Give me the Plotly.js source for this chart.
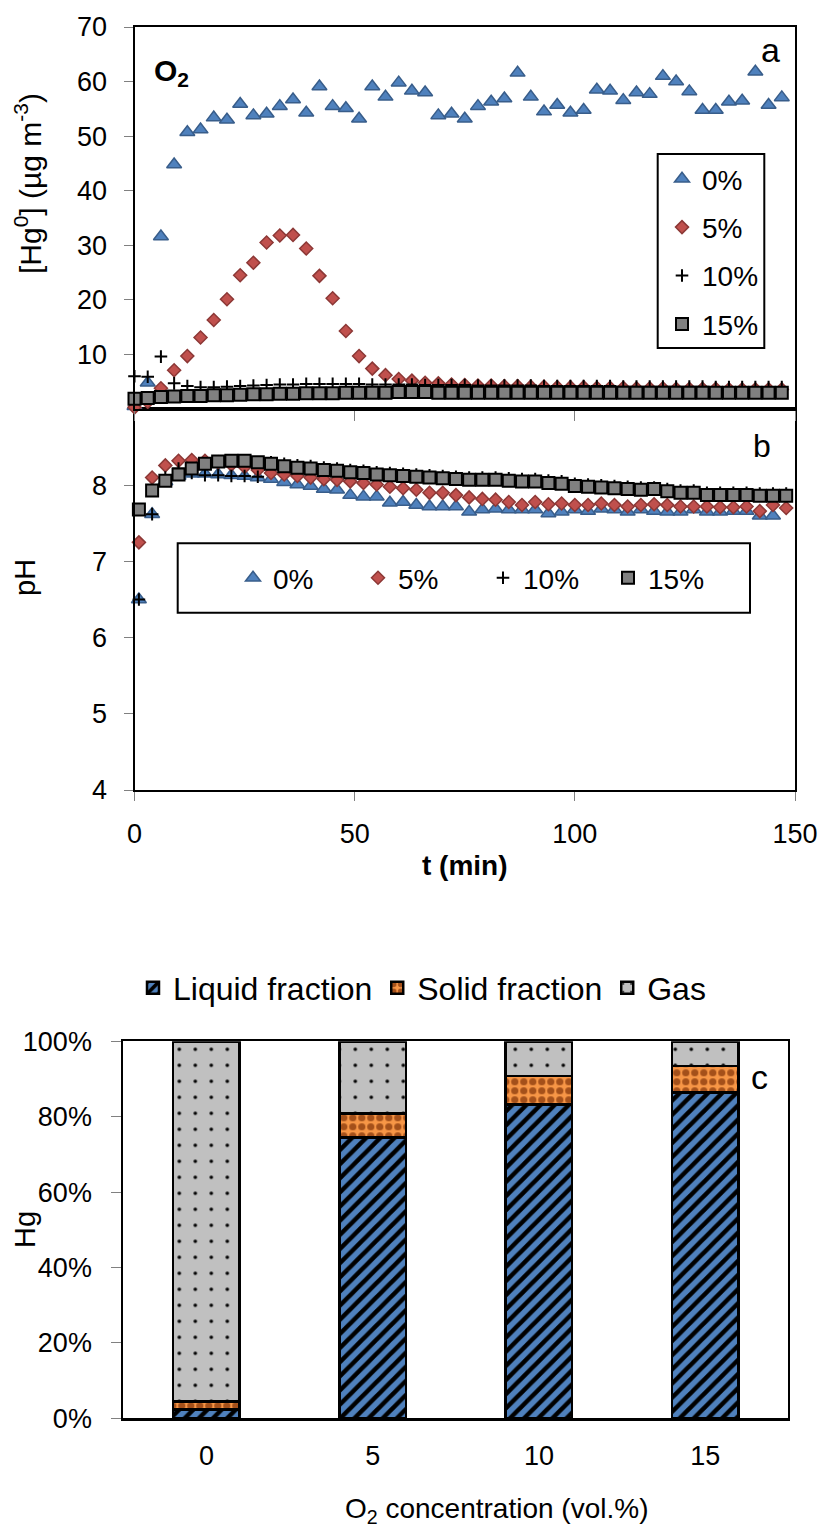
<!DOCTYPE html>
<html>
<head>
<meta charset="utf-8">
<script src="https://cdn.plot.ly/plotly-3.0.1.min.js"></script>
<style>html,body{margin:0;padding:0;background:#fff;}#chart{width:825px;height:1533px;}</style>
</head>
<body>
<div id="chart"></div>
<script>
// ---------- DATA ----------
// Panel a: time (min) and [Hg0] (µg m-3)
const tHg = [0,3,6,9,12,15,18,21,24,27,30,33,36,39,42,45,48,51,54,57,60,63,66,69,72,75,78,81,84,87,90,93,96,99,102,105,108,111,114,117,120,123,126,129,132,135,138,141,144,147];
const hg0 = [0.5,4.8,31.6,44.8,50.7,51.2,53.4,53.0,55.9,53.8,54.1,55.5,56.7,54.3,59.1,55.5,55.1,53.2,59.1,57.2,59.8,58.3,58.0,53.8,54.1,53.2,55.5,56.3,56.9,61.6,57.2,54.5,55.7,54.3,54.8,58.5,58.3,56.6,58.0,57.7,61.0,60.0,58.2,54.8,54.8,56.3,56.5,61.8,55.7,57.1];
const hg5 = [0.3,1.3,3.8,7.1,9.7,13.1,16.3,20.1,24.5,26.8,30.5,31.8,31.9,29.4,24.4,20.3,14.3,9.7,7.4,6.2,5.5,5.2,4.8,4.7,4.5,4.4,4.3,4.3,4.2,4.2,4.1,4.1,4.0,4.0,4.0,3.9,3.9,3.9,3.8,3.8,3.8,3.7,3.7,3.7,3.7,3.6,3.6,3.6,3.6,3.6];
const hg10 = [6.0,5.9,9.6,4.7,4.2,4.0,4.0,4.1,4.2,4.3,4.4,4.5,4.5,4.6,4.6,4.6,4.6,4.6,4.5,4.5,4.5,4.5,4.4,4.4,4.4,4.4,4.3,4.3,4.3,4.3,4.3,4.2,4.2,4.2,4.2,4.2,4.2,4.1,4.1,4.1,4.1,4.1,4.1,4.1,4.0,4.0,4.0,4.0,4.0,4.0];
const hg15 = [1.9,2.0,2.2,2.3,2.4,2.4,2.5,2.5,2.6,2.7,2.7,2.8,2.8,2.9,2.9,2.9,3.0,3.0,3.0,3.0,3.1,3.1,3.1,3.0,3.0,3.0,3.0,3.0,3.0,3.0,3.0,3.0,3.0,3.0,3.0,3.0,3.0,3.0,3.0,3.0,3.0,3.0,3.0,3.0,3.0,3.0,3.0,3.0,3.0,3.0];

// Panel b: time (min) and pH
const tPH = [1,4,7,10,13,16,19,22,25,28,31,34,37,40,43,46,49,52,55,58,61,64,67,70,73,76,79,82,85,88,91,94,97,100,103,106,109,112,115,118,121,124,127,130,133,136,139,142,145,148];
const ph0 = [6.50,7.62,8.05,8.12,8.15,8.15,8.14,8.13,8.12,8.10,8.08,8.04,8.01,7.99,7.95,7.94,7.87,7.85,7.85,7.77,7.78,7.74,7.72,7.72,7.72,7.65,7.68,7.69,7.68,7.68,7.68,7.63,7.65,7.68,7.66,7.69,7.68,7.65,7.68,7.66,7.65,7.65,7.68,7.65,7.65,7.66,7.66,7.60,7.60,null];
const ph5 = [7.25,8.10,8.26,8.32,8.33,8.32,8.30,8.27,8.24,8.20,8.16,8.14,8.12,8.10,8.08,8.07,8.05,8.03,8.01,7.98,7.96,7.94,7.90,7.90,7.87,7.84,7.82,7.81,7.78,7.74,7.78,7.75,7.76,7.74,7.74,7.76,7.74,7.72,7.74,7.75,7.74,7.72,7.72,7.72,7.71,7.71,7.72,7.66,7.74,7.70];
const ph10 = [6.50,7.62,8.10,8.22,8.16,8.13,8.13,8.12,8.12,8.11,8.30,8.28,8.26,8.25,8.23,8.22,8.20,8.19,8.17,8.16,8.15,8.14,8.13,8.12,8.11,8.10,8.10,8.10,8.09,8.08,8.08,8.06,8.05,8.02,8.01,8.00,7.99,7.98,7.97,7.97,7.95,7.93,7.93,7.90,7.90,7.90,7.90,7.89,7.89,7.89];
const ph15 = [7.68,7.93,8.06,8.14,8.22,8.28,8.31,8.32,8.32,8.30,8.28,8.25,8.23,8.22,8.20,8.19,8.17,8.16,8.14,8.13,8.12,8.11,8.10,8.09,8.08,8.07,8.07,8.07,8.06,8.05,8.05,8.03,8.02,7.99,7.98,7.97,7.96,7.95,7.94,7.95,7.92,7.90,7.90,7.87,7.87,7.87,7.87,7.86,7.86,7.86];
const seriesNames = ['0%','5%','10%','15%'];

// Panel c: Hg distribution (%)
const o2Cats = ['0','5','10','15'];
const liquidFrac = [2.4,74.5,83.3,86.4];
const solidFrac = [2.0,6.3,7.5,7.0];
const gasFrac = [95.6,19.2,9.2,6.6];
const barNames = ['Liquid fraction','Solid fraction','Gas'];

const hgTicks = [10,20,30,40,50,60,70];
const phTicks = [4,5,6,7,8];
const tTicks = [0,50,100,150];
const pctTicks = [0,20,40,60,80,100];
const pctTickText = ['0%','20%','40%','60%','80%','100%'];

// ---------- LAYOUT HELPERS ----------
const W = 825, H = 1533;
const px = x => x / W;
const py = y => 1 - y / H;
const FONT = 'Liberation Sans, Arial, sans-serif';

const styles = [
  {symbol:'triangle-up', size:13, color:'#4F81BD', line:{color:'#385D8A', width:1.5}},
  {symbol:'diamond', size:10, color:'#C0504D', line:{color:'#8C3836', width:1.5}},
  {symbol:'cross-thin', size:9, color:'#000', line:{color:'#000', width:2}},
  {symbol:'square', size:12, color:'#808080', line:{color:'#000', width:2}}
];

const hgSeries = [hg0, hg5, hg10, hg15];
const phSeries = [ph0, ph5, ph10, ph15];
const traces = [];
hgSeries.forEach((ys, i) => {
  traces.push({type:'scatter', mode:'markers', x:tHg, y:ys, xaxis:'x2', yaxis:'y2',
    name:seriesNames[i], marker:styles[i], cliponaxis:false,
    legend:'legend', legendgroup:'a'+i});
});
phSeries.forEach((ys, i) => {
  traces.push({type:'scatter', mode:'markers', x:tPH, y:ys, xaxis:'x', yaxis:'y',
    name:seriesNames[i], marker:styles[i], cliponaxis:false,
    legend:'legend2', legendgroup:'b'+i});
});

const barStyles = [
  {color:'#4F81BD', pattern:{shape:'/', fgcolor:'#000', bgcolor:'#4F81BD', size:10, solidity:0.45, fillmode:'replace'}},
  {color:'#F79646', pattern:{shape:'.', fgcolor:'#A4501A', bgcolor:'#F79646', size:9, solidity:0.5, fillmode:'replace'}},
  {color:'#C0C0C0', pattern:{shape:'.', fgcolor:'#000', bgcolor:'#C0C0C0', size:16, solidity:0.04, fillmode:'replace'}}
];
[liquidFrac, solidFrac, gasFrac].forEach((vals, i) => {
  traces.push({type:'bar', x:o2Cats, y:vals, xaxis:'x3', yaxis:'y3', name:barNames[i],
    marker:Object.assign({line:{color:'#000', width:2.5}}, barStyles[i]),
    legend:'legend3', width:0.4});
});

const xDom = [px(134.5), px(795)];
const commonAxis = {showgrid:false, zeroline:false, showline:true, linecolor:'#000', linewidth:2,
  mirror:true, ticks:'outside', tickcolor:'#808080', tickwidth:1, fixedrange:true};

const layout = {
  width:W, height:H,
  margin:{l:0, r:0, t:0, b:0, pad:0},
  paper_bgcolor:'#fff', plot_bgcolor:'#fff',
  font:{family:FONT, size:27, color:'#000'},
  barmode:'stack',
  showlegend:true,
  xaxis: Object.assign({}, commonAxis, {domain:xDom, anchor:'y', range:[0,150], tickvals:tTicks,
    ticklen:9, ticklabelstandoff:10}),
  yaxis: Object.assign({}, commonAxis, {domain:[py(790), py(409)], anchor:'x', range:[4,9],
    tickvals:phTicks, ticklen:9, ticklabelstandoff:11}),
  xaxis2: Object.assign({}, commonAxis, {domain:xDom, anchor:'y2', range:[0,150], tickvals:tTicks,
    showticklabels:false, ticklen:10}),
  yaxis2: Object.assign({}, commonAxis, {domain:[py(409), py(27)], anchor:'x2', range:[0,70],
    tickvals:hgTicks, ticklen:9, ticklabelstandoff:11}),
  xaxis3: Object.assign({}, commonAxis, {domain:[px(123.3), px(788.3)], anchor:'y3', type:'category',
    ticks:'', linewidth:2.5, ticklabelstandoff:12}),
  yaxis3: Object.assign({}, commonAxis, {domain:[py(1418.3), py(1041.3)], anchor:'x3', range:[0,100],
    tickvals:pctTicks, ticktext:pctTickText, ticklen:10, ticklabelstandoff:14}),
  legend: {x:px(662), y:py(154), xanchor:'left', yanchor:'top', bgcolor:'rgba(0,0,0,0)',
    borderwidth:0, font:{size:28}, tracegroupgap:9, traceorder:'grouped'},
  legend2: {orientation:'h', x:px(233), y:py(578), xanchor:'left', yanchor:'middle',
    bgcolor:'rgba(0,0,0,0)', borderwidth:0, font:{size:28}, entrywidth:80, entrywidthmode:'pixels'},
  legend3: {orientation:'h', x:px(133), y:py(988), xanchor:'left', yanchor:'middle',
    bgcolor:'rgba(0,0,0,0)', borderwidth:0, font:{size:32}, traceorder:'normal'},
  shapes: [
    {type:'rect', xref:'paper', yref:'paper', x0:px(657.7), x1:px(764.3), y0:py(348), y1:py(154),
      line:{color:'#000', width:2}, fillcolor:'rgba(0,0,0,0)', layer:'above'},
    {type:'rect', xref:'paper', yref:'paper', x0:px(177.7), x1:px(750), y0:py(612.7), y1:py(543.3),
      line:{color:'#000', width:2}, fillcolor:'rgba(0,0,0,0)', layer:'above'}
  ],
  annotations: [
    {text:'[Hg<sup>0</sup>] (µg m<sup>-3</sup>)', xref:'paper', yref:'paper', x:px(28), y:py(184),
      textangle:-90, showarrow:false, font:{size:30}, xanchor:'center', yanchor:'middle'},
    {text:'pH', xref:'paper', yref:'paper', x:px(25), y:py(578), textangle:-90, showarrow:false,
      font:{size:29}, xanchor:'center', yanchor:'middle'},
    {text:'Hg', xref:'paper', yref:'paper', x:px(25), y:py(1230), textangle:-90, showarrow:false,
      font:{size:29}, xanchor:'center', yanchor:'middle'},
    {text:'<b>t (min)</b>', xref:'paper', yref:'paper', x:px(465), y:py(865), showarrow:false,
      font:{size:28}, xanchor:'center', yanchor:'middle'},
    {text:'O<sub>2</sub> concentration (vol.%)', xref:'paper', yref:'paper', x:px(496), y:py(1510),
      showarrow:false, font:{size:28}, xanchor:'center', yanchor:'middle'},
    {text:'<b>O<sub>2</sub></b>', xref:'paper', yref:'paper', x:px(152), y:py(72), showarrow:false,
      font:{size:30}, xanchor:'left', yanchor:'middle'},
    {text:'a', xref:'paper', yref:'paper', x:px(770), y:py(50), showarrow:false,
      font:{size:34}, xanchor:'center', yanchor:'middle'},
    {text:'b', xref:'paper', yref:'paper', x:px(762), y:py(446), showarrow:false,
      font:{size:32}, xanchor:'center', yanchor:'middle'},
    {text:'c', xref:'paper', yref:'paper', x:px(759), y:py(1077), showarrow:false,
      font:{size:34}, xanchor:'center', yanchor:'middle'}
  ]
};

Plotly.newPlot('chart', traces, layout, {displayModeBar:false, staticPlot:true});
</script>
</body>
</html>
